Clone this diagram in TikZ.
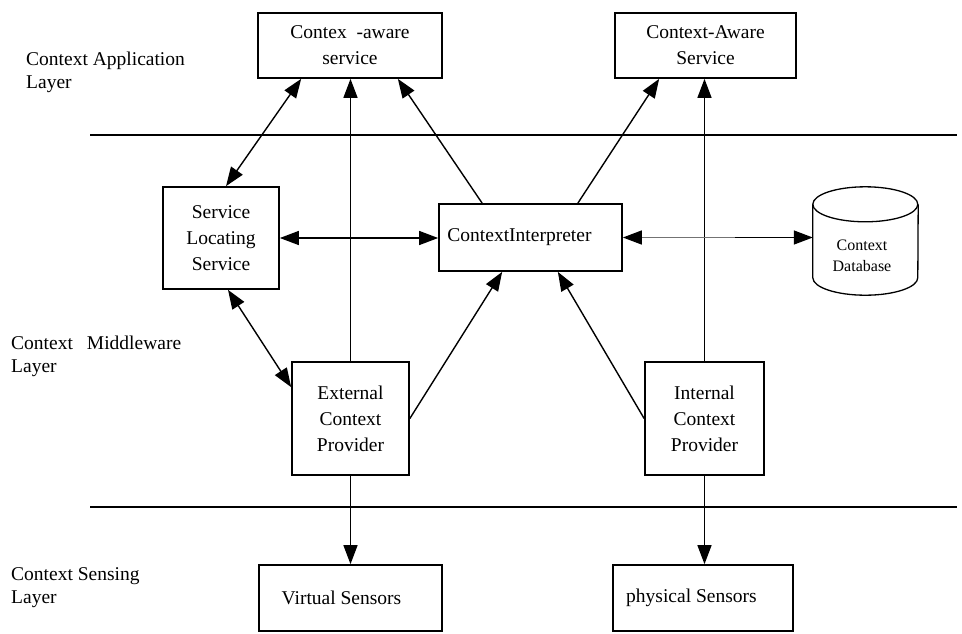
\documentclass[tikz,border=0pt]{standalone}
\usepackage{fontspec}
\setmainfont{Liberation Serif}
\usetikzlibrary{arrows.meta}
\begin{document}
\begin{tikzpicture}[x=1pt,y=-1pt,
  >={Triangle[length=19pt,width=14pt]},
  every node/.style={inner sep=0pt, font=\fontsize{19.5}{26}\selectfont},
  box/.style={draw, line width=1.7pt, align=center},
  layer/.style={anchor=north west, align=left, font=\fontsize{19.5}{23}\selectfont},
  conn/.style={line width=1.4pt},
  sep/.style={line width=1.6pt}]
\useasboundingbox (0,0) rectangle (962,633);

% layer separators
\draw[sep] (90,135) -- (957,135);
\draw[sep] (90,507) -- (957,507);

% layer titles
\node[layer] (lapp) at (26,52) {Context Application\\Layer};
\node[layer] (lmid) at (11,336) {Context\hspace{14pt}Middleware\\Layer};
\node[layer] (lsen) at (11,567) {Context Sensing\\Layer};

% application layer
\node[box, minimum width=184pt, minimum height=65pt] (cas1) at (350,45.5) {Contex \ -aware\\service};
\node[box, minimum width=181pt, minimum height=65pt] (cas2) at (705.5,45.5) {Context-Aware\hspace{12pt}\\Service};

% middleware layer
\node[box, minimum width=116pt, minimum height=102pt] (sls) at (221,238) {Service\\Locating\\Service};
\node[box, minimum width=183pt, minimum height=67pt] (ci) at (530.5,237.5) {ContextInterpreter\hspace{22pt}};
\node[minimum width=105pt, minimum height=108pt] (db) at (865.5,241) {};
\draw[line width=1.3pt] (db.north west) ++(0,17.5) arc[start angle=180, end angle=-180, x radius=52.5pt, y radius=17.5pt];
\draw[line width=1.3pt] ([yshift=-17.5pt]db.north west) -- ([yshift=17.5pt]db.south west)
  arc[start angle=180, end angle=360, x radius=52.5pt, y radius=17.5pt]
  -- ([yshift=-17.5pt]db.north east);
\node[font=\fontsize{16}{21}\selectfont, align=center] (dbt) at (862,256) {Context\\Database};

\node[box, minimum width=117pt, minimum height=113pt] (ecp) at (350.5,418.5) {External\\Context\\Provider};
\node[box, minimum width=119pt, minimum height=113pt] (icp) at (704.5,418.5) {Internal\\Context\\Provider};

% sensing layer
\node[box, minimum width=183pt, minimum height=66pt] (vs) at (350.5,598) {Virtual Sensors\hspace{18pt}};
\node[box, minimum width=180pt, minimum height=66pt] (ps) at (703,598) {physical Sensors\hspace{23pt}};

% connectors
\draw[conn,<->] ([xshift=5pt]sls.north) -- ([xshift=44pt]cas1.south west);
\draw[conn,->] (ecp.north) -- (ecp.north |- cas1.south);
\draw[conn,->] ([xshift=44pt]ci.north west) -- ([xshift=-45pt]cas1.south east);
\draw[conn,->] ([xshift=-45pt]ci.north east) -- ([xshift=45pt]cas2.south west);
\draw[conn,->] (icp.north) -- (icp.north |- cas2.south);
\draw[conn,<->] (sls.east) -- (sls.east -| ci.west);
\draw[conn,black!55,{Triangle[length=19pt,width=14pt,color=black]}-] (ci.east) -- ([xshift=-78pt]ci.east -| db.west);
\draw[conn,->] ([xshift=-78pt]ci.east -| db.west) -- (ci.east -| db.west);
\draw[conn,<->] ([xshift=7pt]sls.south) -- ([yshift=-26pt]ecp.north west);
\draw[conn,->] (ecp.east) -- ([xshift=64pt]ci.south west);
\draw[conn,->] (icp.west) -- ([xshift=-65pt]ci.south east);
\draw[conn,->] (ecp.south) -- (ecp.south |- vs.north);
\draw[conn,->] (icp.south) -- (icp.south |- ps.north);
\end{tikzpicture}
\end{document}
